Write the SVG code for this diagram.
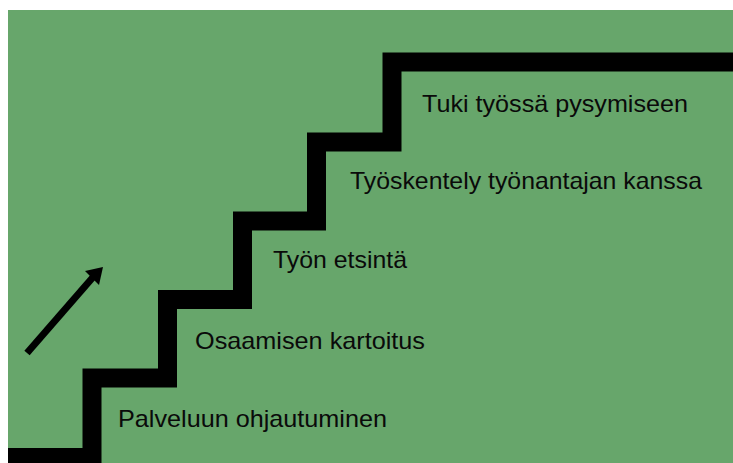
<svg xmlns="http://www.w3.org/2000/svg" width="733" height="463" viewBox="0 0 733 463">
<defs>
<style>
.lbl{font-family:"Liberation Sans",Arial,sans-serif;font-size:24px;fill:#0a0a0a;}
</style>
</defs>
<rect x="0" y="0" width="733" height="463" fill="#ffffff"/>
<rect x="8" y="10" width="725" height="453" fill="#67a66b"/>
<g id="stairs">
<path d="M8 457.5 H92 V378 H167.5 V299.5 H242.5 V221 H316.5 V142 H392 V62 H733" fill="none" stroke="#000" stroke-width="19" stroke-linejoin="miter" stroke-miterlimit="10"/>
</g>
<g id="arrow">
<line x1="27" y1="353" x2="94" y2="276" stroke="#000" stroke-width="7"/>
<polygon points="103,267 85,271 99,285" fill="#000"/>
</g>
<g id="step1"><text class="lbl" x="118" y="427" textLength="269" lengthAdjust="spacingAndGlyphs">Palveluun ohjautuminen</text></g>
<g id="step2"><text class="lbl" x="195" y="349" textLength="230" lengthAdjust="spacingAndGlyphs">Osaamisen kartoitus</text></g>
<g id="step3"><text class="lbl" x="273" y="268" textLength="134" lengthAdjust="spacingAndGlyphs">Työn etsintä</text></g>
<g id="step4"><text class="lbl" x="350" y="189" textLength="352" lengthAdjust="spacingAndGlyphs">Työskentely työnantajan kanssa</text></g>
<g id="step5"><text class="lbl" x="422" y="112" textLength="266" lengthAdjust="spacingAndGlyphs">Tuki työssä pysymiseen</text></g>
</svg>
